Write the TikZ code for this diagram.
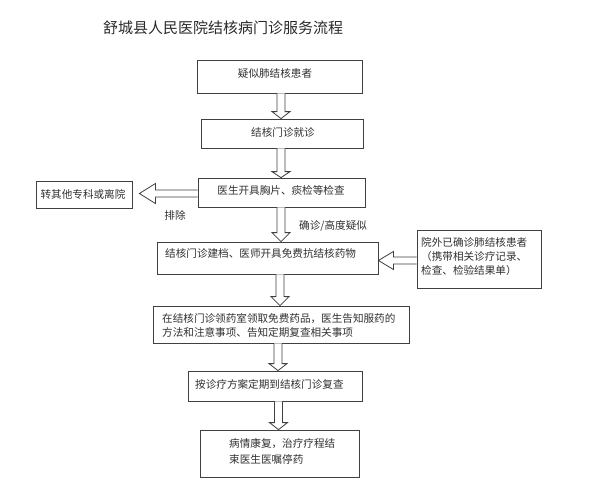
\documentclass[tikz,border=0pt]{standalone}
\usepackage{fontspec}
\setmainfont{Noto Sans CJK SC}
\usetikzlibrary{calc}
\definecolor{linec}{HTML}{404040}
\definecolor{txtc}{HTML}{303030}
\definecolor{titlec}{HTML}{2A2A2A}
% vertical block arrow: from node, to node, x centre, head length
\newcommand\dnarrow[4]{%
  \draw[blk] let \p1=(#1.south), \p2=(#2.north) in
    (#3pt-4pt,\y1) -- (#3pt-4pt,\y2+#4pt) -- (#3pt-9pt,\y2+#4pt) -- (#3pt,\y2)
    -- (#3pt+9pt,\y2+#4pt) -- (#3pt+4pt,\y2+#4pt) -- (#3pt+4pt,\y1);}
% leftward block arrow: from node, to node, y centre, shaft half, head half, head length, gap
\newcommand\lfarrow[7]{%
  \draw[blk] let \p1=(#1.west), \p2=(#2.east) in
    (\x1,-#3pt+#4pt) -- (\x2+#7pt+#6pt,-#3pt+#4pt) -- (\x2+#7pt+#6pt,-#3pt+#5pt)
    -- (\x2+#7pt,-#3pt) -- (\x2+#7pt+#6pt,-#3pt-#5pt) -- (\x2+#7pt+#6pt,-#3pt-#4pt)
    -- (\x1,-#3pt-#4pt);}
\tikzset{
  frame/.style={draw=linec, line width=0.8pt, fill=white, inner sep=0pt, rectangle},
  txt/.style={text=txtc, font=\fontsize{10.6}{14}\selectfont, inner sep=0pt, align=left},
  blk/.style={draw=linec, line width=0.8pt, fill=white, line join=miter},
}
\begin{document}
\begin{tikzpicture}[x=1pt, y=-1pt]
\fill[white] (0,0) rectangle (600,488);
\useasboundingbox (0,0) rectangle (600,488);

% title
\node[text=titlec, font=\fontsize{15}{18}\selectfont, inner sep=0pt] (title) at (223,28) {舒城县人民医院结核病门诊服务流程};

% frames
\node[frame, minimum width=165, minimum height=33] (b1) at (279.5,76.5) {};
\node[frame, minimum width=162, minimum height=29] (b2) at (282,133.5) {};
\node[frame, minimum width=167, minimum height=29] (b3) at (281.5,192.5) {};
\node[frame, minimum width=96,  minimum height=27] (bl) at (84,194.5) {};
\node[frame, minimum width=221, minimum height=32] (b4) at (267.5,258) {};
\node[frame, minimum width=124, minimum height=58] (br) at (479,259) {};
\node[frame, minimum width=256, minimum height=37] (b5) at (281,324.5) {};
\node[frame, minimum width=174, minimum height=30] (b6) at (275,386) {};
\node[frame, minimum width=159, minimum height=47] (b7) at (279.5,453.5) {};

% texts
\node[txt] (t1) at (275,73.5) {疑似肺结核患者};
\node[txt] (t2) at (283,132) {结核门诊就诊};
\node[txt] (t3) at (281,190) {医生开具胸片、痰检等检查};
\node[txt] (tl) at (83,194) {转其他专科或离院};
\node[txt, anchor=west] (t4) at (165,253) {结核门诊建档、医师开具免费抗结核药物};
\node[txt, anchor=west] (tr) at (421,257) {院外已确诊肺结核患者\\（携带相关诊疗记录、\\检查、检验结果单）};
\node[txt, anchor=west, font=\fontsize{10.6}{13.5}\selectfont] (t5) at (162,325.5) {在结核门诊领药室领取免费药品，医生告知服药的\\方法和注意事项、告知定期复查相关事项};
\node[txt, anchor=west] (t6) at (195,384) {按诊疗方案定期到结核门诊复查};
\node[txt, anchor=west, font=\fontsize{10.6}{16}\selectfont] (t7) at (229,451) {病情康复，治疗疗程结\\束医生医嘱停药};
\node[txt] (excl) at (175,215) {排除};
\node[txt, anchor=west] (conf) at (299,226) {确诊/高度疑似};

% block arrows
\dnarrow{b1}{b2}{281}{7}
\dnarrow{b2}{b3}{281}{6}
\dnarrow{b3}{b4}{281}{9}
\dnarrow{b4}{b5}{280}{9}
\dnarrow{b5}{b6}{278}{7}
\dnarrow{b6}{b7}{278.5}{7}
\lfarrow{b3}{bl}{193.5}{3.5}{10}{16}{7}
\lfarrow{br}{b4}{260.5}{3.5}{9}{15}{0}
\end{tikzpicture}
\end{document}
